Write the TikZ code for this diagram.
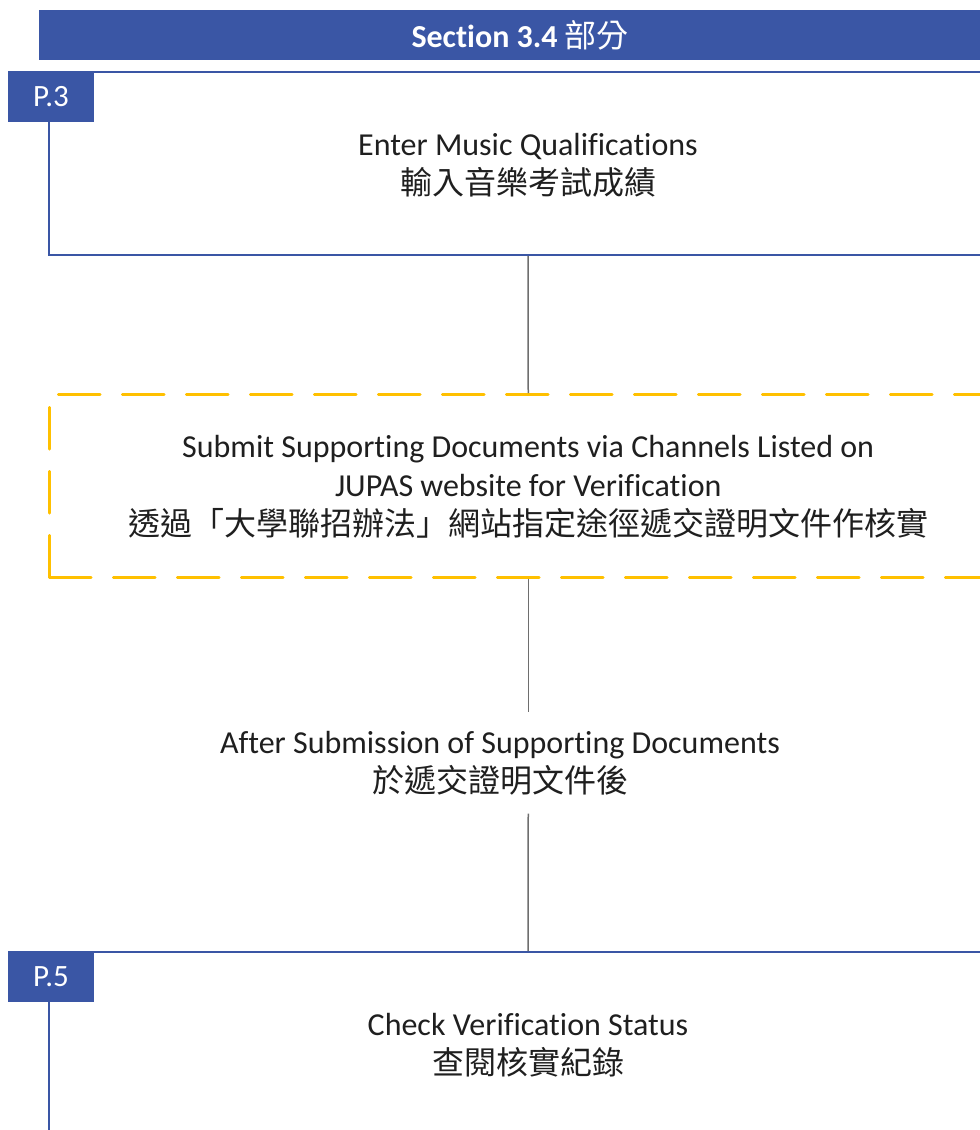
\documentclass[tikz,border=0pt]{standalone}
\usepackage{fontspec}
\setmainfont{Carlito}[Ligatures=NoCommon]
\newfontfamily\cjk{Noto Sans CJK TC}
\usetikzlibrary{positioning}
\definecolor{jupasblue}{RGB}{58,86,165}
\definecolor{verifyamber}{RGB}{255,192,0}
\definecolor{linkgray}{RGB}{110,110,110}
\tikzstyle{every node}=[font=\fontsize{32}{39}\selectfont,text=black!88,align=center]
\tikzstyle{stage}=[draw=jupasblue,line width=2pt,minimum width=958pt,minimum height=183pt,text depth=-7pt,anchor=north west]
\tikzstyle{verify}=[stage,draw=verifyamber,line width=2.5pt,line cap=round,dash pattern=on 42pt off 22pt]
\tikzstyle{pagetab}=[fill=jupasblue,text=white,minimum width=86pt,minimum height=51pt,anchor=north,xshift=3pt,font=\fontsize{31}{34}\selectfont]
\tikzstyle{banner}=[fill=jupasblue,text=white,minimum width=962pt,minimum height=50pt,anchor=north west,font=\fontsize{32}{36}\selectfont\bfseries]
\tikzstyle{link}=[draw=linkgray,line width=1.5pt]

\begin{document}
\begin{tikzpicture}[x=1pt,y=-1pt]
  \useasboundingbox (0,0) rectangle (980,1130);
  \node[banner] (section) at (39,10) {Section 3.4 {\cjk\mdseries 部分}};
  \node[stage] (enter) at (48,71) {Enter Music Qualifications\\{\cjk 輸入音樂考試成績}};
  \node[pagetab] (p3) at (enter.north west) {P.3};
  \node[verify] (submit) at (48,393) {Submit Supporting Documents via Channels Listed on\\JUPAS website for Verification\\{\cjk 透過「大學聯招辦法」網站指定途徑遞交證明文件作核實}};
  \node[minimum height=101pt] (after) at (500,763) {After Submission of Supporting Documents\\{\cjk 於遞交證明文件後}};
  \node[stage] (check) at (48,951) {Check Verification Status\\{\cjk 查閱核實紀錄}};
  \node[pagetab] (p5) at (check.north west) {P.5};
  \path[link] (enter.south) -- (submit.north);
  \path[link] (submit.south) -- (submit.south |- after.north);
  \path[link] (submit.south |- after.south) -- (check.north);
\end{tikzpicture}
\end{document}
